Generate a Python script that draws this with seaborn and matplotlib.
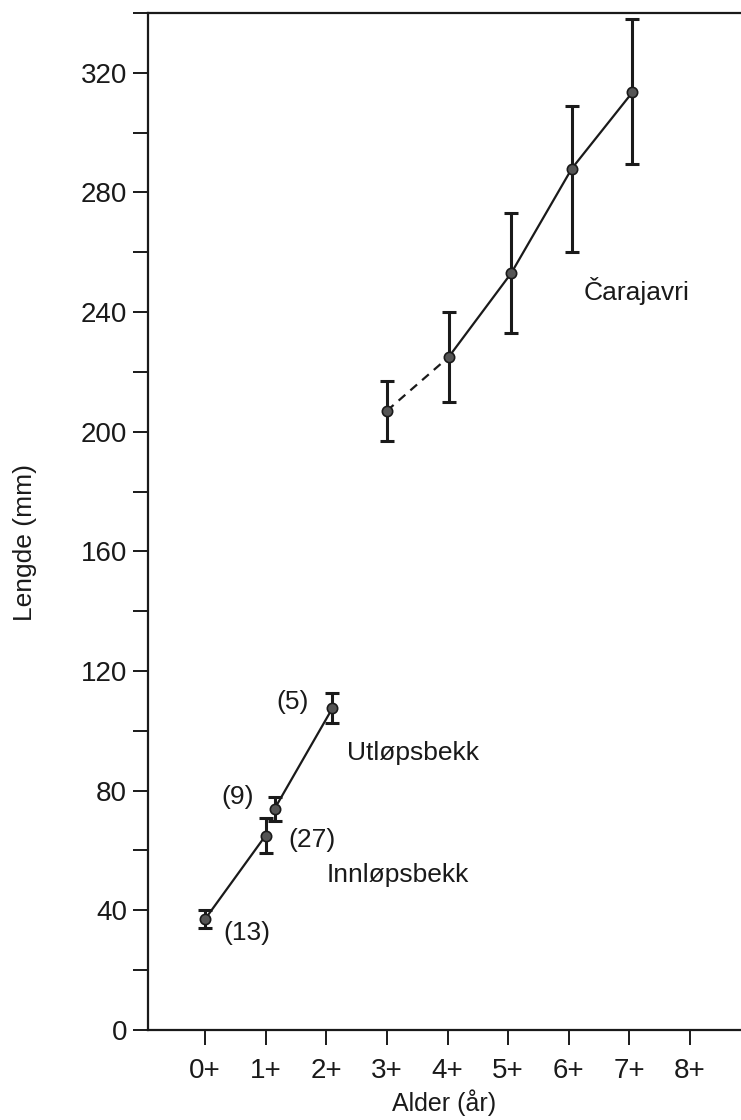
import matplotlib
matplotlib.use("Agg")
import matplotlib.pyplot as plt
from matplotlib.ticker import MultipleLocator
import seaborn as sns
import pandas as pd

# Lengde ved alder, røye (lest av figuren)
inn_alder = [0.0, 1.0]
inn_lengde = [37, 65]
inn_feil = [3, 6]

ut_alder = [1.15, 2.1]
ut_lengde = [74, 107.5]
ut_feil = [4, 5]

cara_alder = [3.0, 4.02, 5.05, 6.05, 7.05]
cara_lengde = [207, 225, 253, 288, 313.5]
cara_feil_ned = [10, 15, 20, 28, 24]
cara_feil_opp = [10, 15, 20, 21, 24.5]

alder_etiketter = ["0+", "1+", "2+", "3+", "4+", "5+", "6+", "7+", "8+"]

sns.set_theme(style="ticks")
plt.rcParams["font.family"] = ["Liberation Sans", "DejaVu Sans"]

fig = plt.figure(figsize=(7.41, 11.2), dpi=100)
ax = fig.add_axes([0.1997, 0.0804, 0.8003, 0.908])

farge = "#1a1a1a"

df_inn = pd.DataFrame({"alder": inn_alder, "lengde": inn_lengde})
df_ut = pd.DataFrame({"alder": ut_alder, "lengde": ut_lengde})
df_cara = pd.DataFrame({"alder": cara_alder, "lengde": cara_lengde})

# linjer
sns.lineplot(data=df_inn, x="alder", y="lengde", color=farge, linewidth=1.6, ax=ax)
sns.lineplot(data=df_ut, x="alder", y="lengde", color=farge, linewidth=1.6, ax=ax)
sns.lineplot(data=df_cara.iloc[:2], x="alder", y="lengde", color=farge, linewidth=1.6,
             linestyle=(0, (4, 3)), ax=ax)
sns.lineplot(data=df_cara.iloc[1:], x="alder", y="lengde", color=farge, linewidth=1.6, ax=ax)

# feilstolper
ax.errorbar(inn_alder, inn_lengde, yerr=inn_feil, fmt="none", ecolor=farge, elinewidth=2.2,
            capsize=5, capthick=2.2)
ax.errorbar(ut_alder, ut_lengde, yerr=ut_feil, fmt="none", ecolor=farge, elinewidth=2.2,
            capsize=5, capthick=2.2)
ax.errorbar(cara_alder, cara_lengde, yerr=[cara_feil_ned, cara_feil_opp], fmt="none",
            ecolor=farge, elinewidth=2.2, capsize=5, capthick=2.2)

# punkter
for d in [df_inn, df_ut, df_cara]:
    sns.scatterplot(data=d, x="alder", y="lengde", color="#555555", edgecolor=farge,
                    linewidth=1.2, s=55, zorder=5, ax=ax)

# tekster
fs = 19
ax.text(1.45, 109.7, "(5)", fontsize=fs, ha="center", va="center", color=farge)
ax.text(0.545, 77.9, "(9)", fontsize=fs, ha="center", va="center", color=farge)
ax.text(1.76, 63.5, "(27)", fontsize=fs, ha="center", va="center", color=farge)
ax.text(0.69, 32.4, "(13)", fontsize=fs, ha="center", va="center", color=farge)
ax.text(2.34, 92.6, "Utløpsbekk", fontsize=fs, ha="left", va="center", color=farge)
ax.text(2.01, 51.8, "Innløpsbekk", fontsize=fs, ha="left", va="center", color=farge)
ax.text(6.24, 246.9, "Čarajavri", fontsize=fs, ha="left", va="center", color=farge)

# akser
ax.set_xlim(-0.94, 8.84)
ax.set_ylim(0, 340)
ax.set_xticks(range(len(alder_etiketter)))
ax.set_xticklabels(alder_etiketter)
ax.yaxis.set_major_locator(MultipleLocator(40))
ax.yaxis.set_minor_locator(MultipleLocator(20))
ax.tick_params(axis="both", which="both", direction="out", length=11, width=1.4,
               color=farge, labelsize=20, labelcolor=farge)
ax.tick_params(axis="x", pad=9)
ax.tick_params(axis="y", pad=4)
ax.spines["right"].set_visible(False)
for s in ["left", "bottom", "top"]:
    ax.spines[s].set_linewidth(1.6)
    ax.spines[s].set_color(farge)

ax.set_xlabel("Alder (år)", fontsize=18, color=farge, va="bottom")
ax.xaxis.set_label_coords(0.5, -0.0845)
ax.set_ylabel("Lengde (mm)", fontsize=fs, color=farge)
ax.yaxis.set_label_coords(-0.187, 0.479)

fig.savefig("out.png", dpi=100)
